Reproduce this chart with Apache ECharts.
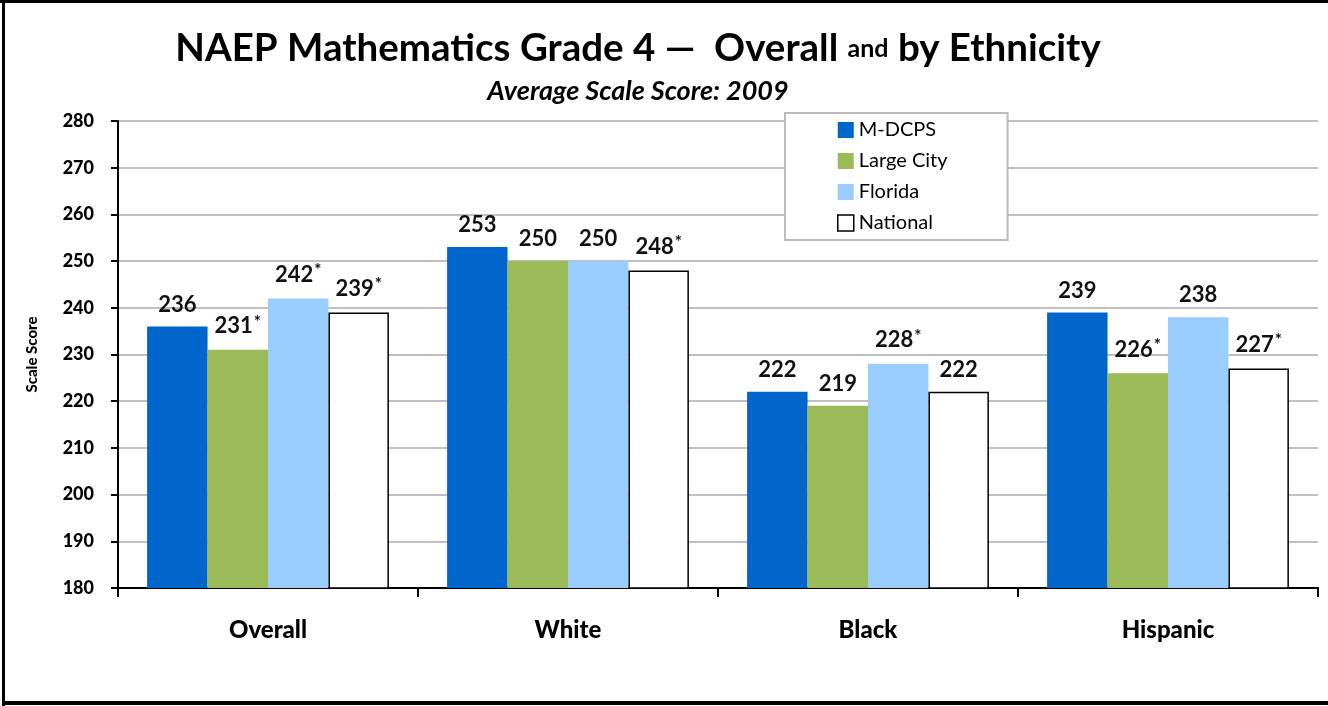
<!DOCTYPE html>
<html><head><meta charset="utf-8">
<script src="https://cdn.jsdelivr.net/npm/echarts@6/dist/echarts.min.js"></script>
<style>html,body{margin:0;padding:0;background:#fff}#c{width:1328px;height:706px}</style>
</head><body><div id="c"></div>
<script>
const categories = ['Overall', 'White', 'Black', 'Hispanic'];
const seriesNames = ['M-DCPS', 'Large City', 'Florida', 'National'];
const mdcps = [236, 253, 222, 239];
const largeCity = [231, 250, 219, 226];
const florida = [242, 250, 228, 238];
const national = [239, 248, 222, 227];
const mdcpsStar = [false, false, false, false];
const largeCityStar = [true, false, false, true];
const floridaStar = [true, false, true, false];
const nationalStar = [true, true, false, true];
const yTicks = [180, 190, 200, 210, 220, 230, 240, 250, 260, 270, 280];

const FONT = 'Lato';
const colors = ['#0066CC', '#9BBB59', '#99CCFF', '#FFFFFF'];
const values = [mdcps, largeCity, florida, national];
const stars = [mdcpsStar, largeCityStar, floridaStar, nationalStar];

const chart = echarts.init(document.getElementById('c'), null, {renderer: 'canvas'});
const series = seriesNames.map((name, i) => ({
  name: name,
  type: 'bar',
  data: values[i],
  barGap: '0%',
  barCategoryGap: '19.4%',
  itemStyle: {
    color: colors[i],
    borderColor: i === 3 ? '#000' : colors[i],
    borderWidth: i === 3 ? 1.5 : 0
  },
  label: {
    show: true,
    position: 'top',
    distance: 11,
    formatter: p => stars[i][p.dataIndex] ? '{v|' + p.value + '}{s|*}' : '{v|' + p.value + '}',
    rich: {
      v: {fontFamily: FONT, fontWeight: 'bold', fontSize: 22, color: '#111'},
      s: {fontFamily: FONT, fontWeight: 'bold', fontSize: 17, color: '#111', padding: [0, 0, 8, 1]}
    }
  }
}));

chart.setOption({
  animation: false,
  backgroundColor: '#fff',
  title: [{
    text: '{a|NAEP Mathematics Grade 4 —  Overall }{b|and}{a| by Ethnicity}',
    left: 633, top: 24, textAlign: 'center',
    textStyle: {
      rich: {
        a: {fontFamily: FONT, fontWeight: 'bold', fontSize: 38.5, color: '#000'},
        b: {fontFamily: FONT, fontWeight: 'bold', fontSize: 25, color: '#000'}
      }
    }
  }, {
    text: 'Average Scale Score: 2009',
    left: 633, top: 73, textAlign: 'center',
    textStyle: {fontFamily: FONT, fontStyle: 'italic', fontWeight: 'bold', fontSize: 27, color: '#000'}
  }],
  legend: {
    orient: 'vertical',
    left: 785, top: 113,
    width: 222,
    padding: [7, 60, 7, 52],
    itemGap: 11,
    itemWidth: 16, itemHeight: 16,
    borderColor: '#bbb', borderWidth: 2,
    backgroundColor: '#fff',
    textStyle: {fontFamily: FONT, fontSize: 20, color: '#000'},
    data: seriesNames.map((n, i) => ({
      name: n, icon: 'rect',
      itemStyle: i === 3 ? {color: '#fff', borderColor: '#000', borderWidth: 1.5} : {color: colors[i]}
    }))
  },
  grid: {left: 118, right: 10, top: 121, bottom: 118, containLabel: false},
  xAxis: {
    type: 'category',
    data: categories,
    axisLine: {lineStyle: {color: '#000', width: 2}},
    axisTick: {show: true, length: 9, lineStyle: {color: '#000', width: 2}},
    axisLabel: {fontFamily: FONT, fontWeight: 900, fontSize: 24, color: '#000', margin: 30}
  },
  yAxis: {
    type: 'value',
    min: yTicks[0], max: yTicks[yTicks.length - 1], interval: 10,
    name: 'Scale Score',
    nameLocation: 'middle',
    nameGap: 78,
    nameRotate: 90,
    nameTextStyle: {fontFamily: FONT, fontWeight: 900, fontSize: 15, color: '#000'},
    axisLine: {show: true, lineStyle: {color: '#000', width: 2}},
    axisTick: {show: true, length: 7, lineStyle: {color: '#000', width: 2}},
    axisLabel: {fontFamily: FONT, fontWeight: 900, fontSize: 18, color: '#000', margin: 24},
    splitLine: {lineStyle: {color: '#c0c0c0', width: 2}}
  },
  graphic: [
    {type: 'rect', shape: {x: 0, y: 0, width: 1328, height: 3}, style: {fill: '#000'}, silent: true},
    {type: 'rect', shape: {x: 2, y: 0, width: 3, height: 706}, style: {fill: '#000'}, silent: true},
    {type: 'rect', shape: {x: 2, y: 701, width: 1326, height: 4}, style: {fill: '#000'}, silent: true}
  ],
  series: series
});
</script></body></html>
